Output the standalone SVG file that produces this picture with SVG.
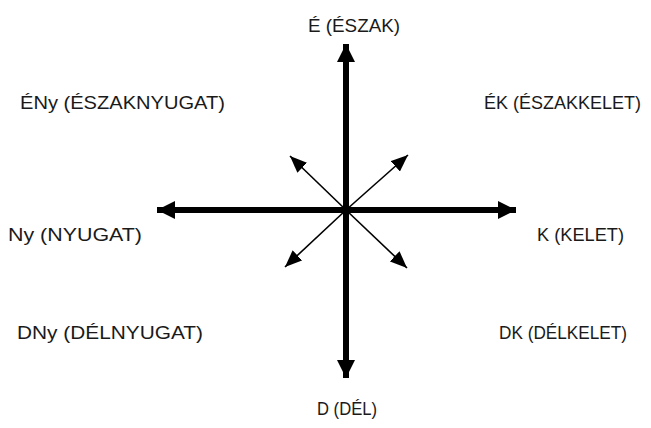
<svg xmlns="http://www.w3.org/2000/svg" width="651" height="428" viewBox="0 0 651 428">
<style>
.lbl{font-family:"Liberation Sans","DejaVu Sans",Arial,sans-serif;font-size:18.5px;fill:#1a1a1a}
.thick{stroke:#000;stroke-width:6;fill:none}
.thin{stroke:#000;stroke-width:1.6;fill:none}
</style>
<defs>
<marker id="bigHead" viewBox="0 0 18 18" refX="18" refY="9" markerWidth="18" markerHeight="18" markerUnits="userSpaceOnUse" orient="auto">
<path d="M0,0 L18,9 L0,18 Z" fill="#000"/>
</marker>
<marker id="smallHead" viewBox="0 0 17 14" refX="17" refY="7" markerWidth="17" markerHeight="14" markerUnits="userSpaceOnUse" orient="auto">
<path d="M0,0 L17,7 L0,14 Z" fill="#000"/>
</marker>
</defs>
<rect width="651" height="428" fill="#fff"/>
<g id="connectors">
<line class="thick" x1="346" y1="210" x2="346" y2="44" marker-end="url(#bigHead)"/>
<line class="thick" x1="346" y1="210" x2="346" y2="378" marker-end="url(#bigHead)"/>
<line class="thick" x1="346" y1="210" x2="157" y2="210" marker-end="url(#bigHead)"/>
<line class="thick" x1="346" y1="210" x2="516" y2="210" marker-end="url(#bigHead)"/>
<line class="thin" x1="346" y1="210" x2="290" y2="156" marker-end="url(#smallHead)"/>
<line class="thin" x1="346" y1="210" x2="408" y2="155" marker-end="url(#smallHead)"/>
<line class="thin" x1="346" y1="210" x2="285" y2="267" marker-end="url(#smallHead)"/>
<line class="thin" x1="346" y1="210" x2="407" y2="268" marker-end="url(#smallHead)"/>
</g>
<g id="n-E"><text class="lbl" x="308" y="32" textLength="92" lengthAdjust="spacingAndGlyphs">É (ÉSZAK)</text></g>
<g id="n-ENy"><text class="lbl" x="20" y="109" textLength="205" lengthAdjust="spacingAndGlyphs">ÉNy (ÉSZAKNYUGAT)</text></g>
<g id="n-EK"><text class="lbl" x="484" y="109" textLength="157" lengthAdjust="spacingAndGlyphs">ÉK (ÉSZAKKELET)</text></g>
<g id="n-Ny"><text class="lbl" x="8" y="241" textLength="134" lengthAdjust="spacingAndGlyphs">Ny (NYUGAT)</text></g>
<g id="n-K"><text class="lbl" x="537" y="241" textLength="87" lengthAdjust="spacingAndGlyphs">K (KELET)</text></g>
<g id="n-DNy"><text class="lbl" x="17" y="339" textLength="186" lengthAdjust="spacingAndGlyphs">DNy (DÉLNYUGAT)</text></g>
<g id="n-DK"><text class="lbl" x="499" y="339" textLength="128" lengthAdjust="spacingAndGlyphs">DK (DÉLKELET)</text></g>
<g id="n-D"><text class="lbl" x="317" y="415" textLength="60" lengthAdjust="spacingAndGlyphs">D (DÉL)</text></g>
</svg>
